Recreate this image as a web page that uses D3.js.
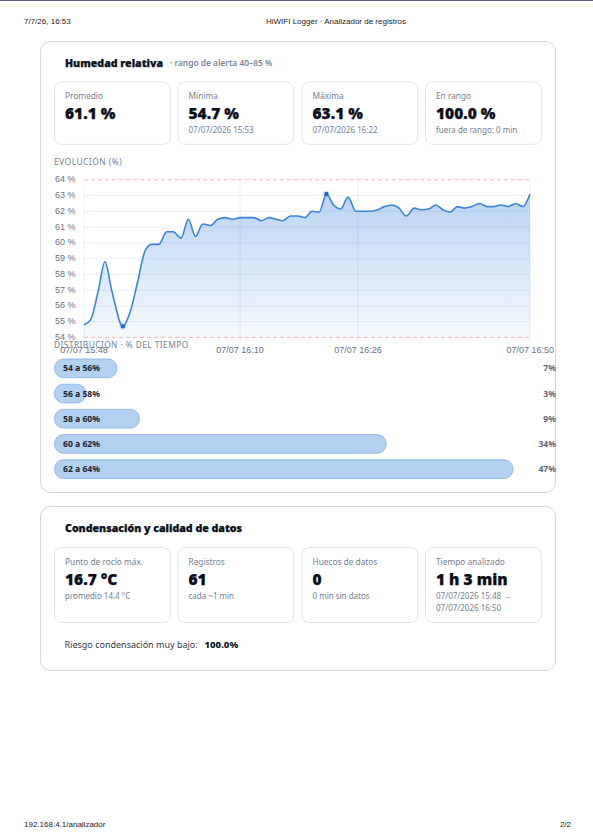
<!DOCTYPE html>
<html><head><meta charset="utf-8">
<script src="https://cdnjs.cloudflare.com/ajax/libs/d3/7.9.0/d3.min.js"></script>
<style>
html,body{margin:0;padding:0;background:#fff}
svg{display:block}
text{font-family:"Noto Sans",sans-serif}
.sys{font-family:"Liberation Sans",Arial,sans-serif;font-size:8px;fill:#222}
.axis{font-family:"Liberation Sans",Arial,sans-serif;font-size:9px;fill:#6b7280}
</style></head><body><svg id="c" width="593" height="835"></svg>
<script>
const elapsedMin=[0,0.9,2.0,2.9,3.9,5.4,6.4,7.4,8.5,9.4,10.4,11.5,12.4,13.5,14.5,15.5,16.5,17.6,18.6,19.6,20.7,21.7,22.7,23.6,24.7,25.7,26.7,27.6,28.7,29.7,30.7,31.7,32.7,33.7,34.7,35.7,36.7,37.8,38.7,39.8,40.8,41.8,42.8,43.8,44.8,45.9,46.9,47.9,48.9,49.9,50.9,51.9,52.9,53.9,55,56,57,57.9,59,60,61,62];
const humidity=[54.8,55.1,57.0,58.8,56.9,54.7,55.6,57.4,59.5,59.9,59.9,60.7,60.7,60.3,61.5,60.4,61.2,61.1,61.5,61.6,61.5,61.6,61.6,61.6,61.4,61.6,61.5,61.4,61.7,61.7,61.6,62.0,61.95,63.1,62.4,62.15,62.9,62.0,62.0,62.0,62.1,62.3,62.4,62.2,61.7,62.2,62.1,62.15,62.4,62.1,61.95,62.3,62.2,62.3,62.5,62.3,62.3,62.4,62.3,62.5,62.3,63.1];
const yTicks=[54,55,56,57,58,59,60,61,62,63,64];
const xTickMin=[0,21.7,38.1,62];
const xTickLabels=["07/07 15:48","07/07 16:10","07/07 16:26","07/07 16:50"];
const binLabels=["54 a 56%","56 a 58%","58 a 60%","60 a 62%","62 a 64%"];
const binShare=[6.4,3.2,8.7,34,47];
const binShareLabels=["7%","3%","9%","34%","47%"];
const humLabels=["Promedio","Mínima","Máxima","En rango"];
const humValues=["61.1 %","54.7 %","63.1 %","100.0 %"];
const humNotes=[[],["07/07/2026 15:53"],["07/07/2026 16:22"],["fuera de rango: 0 min"]];
const qualLabels=["Punto de rocío máx.","Registros","Huecos de datos","Tiempo analizado"];
const qualValues=["16.7 °C","61","0","1 h 3 min"];
const qualNotes=[["promedio 14.4 °C"],["cada ~1 min"],["0 min sin datos"],["07/07/2026 15:48 →","07/07/2026 16:50"]];

const svg=d3.select("#c");
svg.append("rect").attr("x",0).attr("y",0).attr("width",593).attr("height",1).attr("fill","#5b6185");
const sys=(x,y,t,a)=>svg.append("text").attr("class","sys").attr("x",x).attr("y",y).attr("text-anchor",a||"start").text(t);
sys(24,23.8,"7/7/26, 16:53");
sys(336,23.8,"HiWIFI Logger · Analizador de registros","middle");
sys(24,827,"192.168.4.1/analizador");
sys(571,827,"2/2","end");

function card(y,h){svg.append("rect").attr("x",40.5).attr("y",y).attr("width",515).attr("height",h).attr("rx",10).attr("fill","#fff").attr("stroke","#d5d7dc");}
card(41.5,451);card(506.5,164);

const title=(x,y,t)=>svg.append("text").attr("x",x).attr("y",y).attr("font-size",10.6).attr("font-weight",900).attr("fill","#0b0f19").attr("stroke","#0b0f19").attr("stroke-width",.25).text(t);
title(65,66.5,"Humedad relativa");
svg.append("text").attr("x",170).attr("y",65.5).attr("font-size",8.4).attr("font-weight",600).attr("fill","#7b8798").text("· rango de alerta 40–85 %");
title(65,532,"Condensación y calidad de datos");

const boxX=[54.5,178,302,425.5];
function stats(top,h,labels,values,notes){
  labels.forEach((l,i)=>{
    const x=boxX[i];
    svg.append("rect").attr("x",x).attr("y",top).attr("width",115.8).attr("height",h).attr("rx",7).attr("fill","#fff").attr("stroke","#e1e4e8");
    svg.append("text").attr("x",x+10.5).attr("y",top+17).attr("font-size",8.3).attr("fill","#748092").text(l);
    svg.append("text").attr("x",x+10.5).attr("y",top+37).attr("font-size",15.5).attr("font-weight",900).attr("fill","#0b0f19").attr("stroke","#0b0f19").attr("stroke-width",.25).text(values[i]);
    notes[i].forEach((n,j)=>svg.append("text").attr("x",x+10.5).attr("y",top+51+j*12.8).attr("font-size",8).attr("fill","#748092").text(n));
  });
}
stats(82,62.3,humLabels,humValues,humNotes);
stats(547.5,75,qualLabels,qualValues,qualNotes);

svg.append("text").attr("x",54).attr("y",165).attr("font-size",8.4).attr("letter-spacing",.5).attr("fill","#748092").text("EVOLUCIÓN (%)");

const x=d3.scaleLinear().domain([0,62]).range([84,530]);
const y=d3.scaleLinear().domain([54,64]).range([337.4,179.8]);
const pts=elapsedMin.map((m,i)=>({m,v:humidity[i]}));

const grad=svg.append("defs").append("linearGradient").attr("id","fill").attr("gradientUnits","userSpaceOnUse")
  .attr("x1",0).attr("x2",0).attr("y1",y(64)).attr("y2",y(54));
grad.append("stop").attr("offset",0).attr("stop-color","#4a8fdc").attr("stop-opacity",.42);
grad.append("stop").attr("offset",1).attr("stop-color","#4a8fdc").attr("stop-opacity",.05);

const curve=d3.curveMonotoneX;
svg.append("path").datum(pts).attr("fill","url(#fill)").attr("d",d3.area().x(d=>x(d.m)).y0(y(54)).y1(d=>y(d.v)).curve(curve));

svg.append("g").selectAll("line").data(yTicks.filter(t=>t>54&&t<64)).join("line")
  .attr("x1",84).attr("x2",530).attr("y1",d=>y(d)).attr("y2",d=>y(d))
  .attr("stroke","#4f86d0").attr("stroke-opacity",.12).attr("stroke-width",1);
svg.append("g").selectAll("line").data(xTickMin).join("line")
  .attr("x1",d=>x(d)).attr("x2",d=>x(d)).attr("y1",y(64)).attr("y2",y(54)+4)
  .attr("stroke","#4f86d0").attr("stroke-opacity",.11).attr("stroke-width",1.2);
svg.append("g").selectAll("line").data([54,64]).join("line")
  .attr("x1",84).attr("x2",530).attr("y1",d=>y(d)).attr("y2",d=>y(d))
  .attr("stroke","#f7b5b5").attr("stroke-width",1).attr("stroke-dasharray","4 3");

svg.append("path").datum(pts).attr("fill","none").attr("stroke","#3d84d8").attr("stroke-width",1.6)
  .attr("d",d3.line().x(d=>x(d.m)).y(d=>y(d.v)).curve(curve));

const extremes=[d3.least(pts,d=>d.v),d3.greatest(pts,d=>d.v)];
svg.append("g").selectAll("circle").data(extremes).join("circle").attr("cx",d=>x(d.m)).attr("cy",d=>y(d.v)).attr("r",3.6).attr("fill","#3d84d8").attr("fill-opacity",.18);
svg.append("g").selectAll("circle").data(extremes).join("circle").attr("cx",d=>x(d.m)).attr("cy",d=>y(d.v)).attr("r",2.2).attr("fill","#1c6bc9");

svg.append("g").selectAll("text").data(yTicks).join("text").attr("class","axis")
  .attr("x",75.5).attr("y",d=>y(d)+2.6).attr("text-anchor","end").text(d=>d+" %");
svg.append("g").selectAll("text").data(xTickMin).join("text").attr("class","axis")
  .attr("x",(d,i)=>i==3?554:x(d)).attr("y",353).attr("text-anchor",(d,i)=>i==3?"end":"middle").text((d,i)=>xTickLabels[i]);

svg.append("text").attr("x",54).attr("y",347.5).attr("font-size",8.4).attr("letter-spacing",.42).attr("fill","#748092").text("DISTRIBUCIÓN · % DEL TIEMPO");

const w=d3.scaleLinear().domain([0,47]).range([0,458.5]);
const band=d3.scaleBand().domain(binLabels).range([359,478.5]).paddingInner(.258).paddingOuter(0);
const row=svg.append("g").selectAll("g").data(binLabels).join("g").attr("transform",d=>`translate(54.5,${band(d)})`);
row.append("rect").attr("width",(d,i)=>w(binShare[i])).attr("height",band.bandwidth()).attr("rx",9).attr("fill","#b3d0f0").attr("stroke","#7fb3ea").attr("stroke-width",.8);
row.append("text").attr("x",8.5).attr("y",band.bandwidth()/2+3).attr("font-size",8.6).attr("font-weight",700).attr("fill","#1c2430").text(d=>d);
row.append("text").attr("x",501.5).attr("y",band.bandwidth()/2+3).attr("text-anchor","end").attr("font-size",8.6).attr("font-weight",700).attr("fill","#5d6878").text((d,i)=>binShareLabels[i]);

svg.append("text").attr("x",64.5).attr("y",648).attr("font-size",9).attr("fill","#333a45").text("Riesgo condensación muy bajo:");
svg.append("text").attr("x",204.5).attr("y",648).attr("font-size",9.6).attr("font-weight",800).attr("fill","#0b0f19").text("100.0%");
</script></body></html>
